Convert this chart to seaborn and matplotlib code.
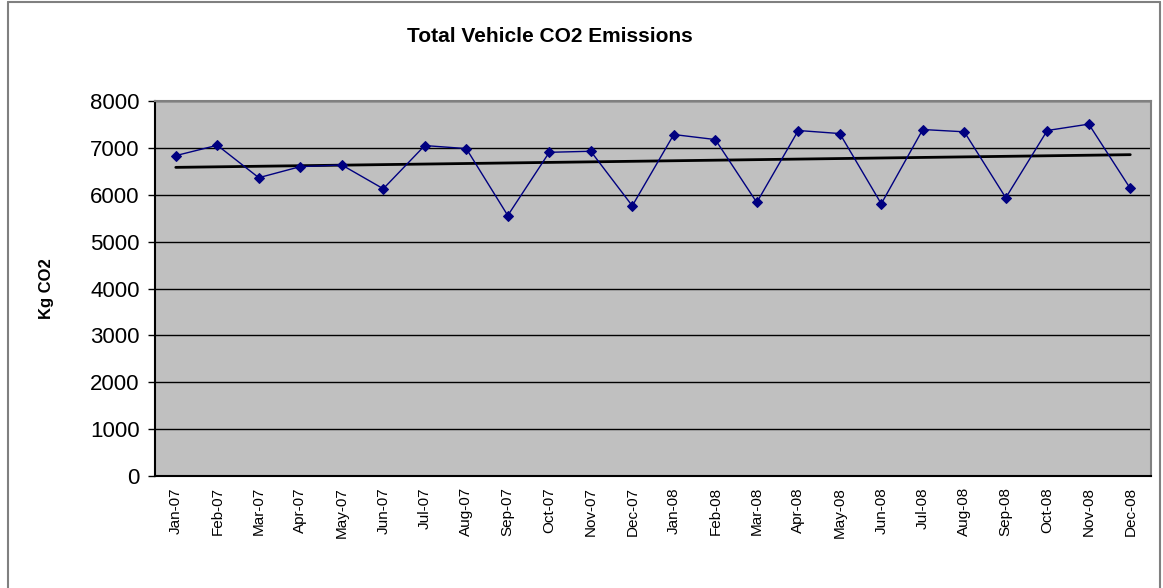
import numpy as np
import pandas as pd
import matplotlib
matplotlib.use("Agg")
import matplotlib.pyplot as plt
import seaborn as sns
from matplotlib.lines import Line2D

# monthly data
months = ["Jan-07", "Feb-07", "Mar-07", "Apr-07", "May-07", "Jun-07",
          "Jul-07", "Aug-07", "Sep-07", "Oct-07", "Nov-07", "Dec-07",
          "Jan-08", "Feb-08", "Mar-08", "Apr-08", "May-08", "Jun-08",
          "Jul-08", "Aug-08", "Sep-08", "Oct-08", "Nov-08", "Dec-08"]
co2_kg = [6835, 7056, 6364, 6600, 6636, 6128, 7050, 6985, 5557, 6906, 6928, 5764,
          7285, 7178, 5836, 7371, 7306, 5807, 7392, 7343, 5936, 7371, 7507, 6135]
y_ticks = [0, 1000, 2000, 3000, 4000, 5000, 6000, 7000, 8000]

df = pd.DataFrame({"month": months, "co2": co2_kg})
df["idx"] = np.arange(len(df))

# linear trendline (like Excel)
slope, intercept = np.polyfit(df["idx"], df["co2"], 1)
df["trend"] = slope * df["idx"] + intercept

sns.set_style("white")
plt.rcParams["font.family"] = ["Liberation Sans", "DejaVu Sans"]
plt.rcParams["text.color"] = "black"
plt.rcParams["axes.labelcolor"] = "black"
plt.rcParams["xtick.color"] = "black"
plt.rcParams["ytick.color"] = "black"

fig = plt.figure(figsize=(11.63, 5.88), dpi=100)
ax = fig.add_axes([0.1333, 0.1905, 0.8564, 0.6377])
ax.set_facecolor("#c0c0c0")

sns.lineplot(data=df, x="idx", y="trend", color="black", linewidth=2, ax=ax)
sns.lineplot(data=df, x="idx", y="co2", color="#000080", linewidth=1,
             marker="D", markersize=5, markeredgecolor="#000080", ax=ax)

ax.set_xlim(-0.5, len(months) - 0.5)
ax.set_ylim(0, 8000)
ax.set_yticks(y_ticks)
ax.set_yticklabels([str(v) for v in y_ticks], fontsize=16)
ax.yaxis.grid(True, color="black", linewidth=1)
ax.set_axisbelow(True)

ax.set_xticks(df["idx"])
ax.set_xticklabels(months, rotation=90, fontsize=11)
ax.set_xticks(np.arange(-0.5, len(months), 1), minor=True)
ax.tick_params(axis="x", which="major", length=0, pad=8)
ax.tick_params(axis="x", which="minor", length=6, direction="out", color="black", width=1)
ax.tick_params(axis="y", length=5, direction="out", color="black", width=1, left=True, pad=6)

ax.set_xlabel("")
ax.set_ylabel("Kg CO2", fontsize=12, fontweight="bold", labelpad=26)

for side in ["left", "bottom"]:
    ax.spines[side].set_color("black")
    ax.spines[side].set_linewidth(1.5)
for side in ["top", "right"]:
    ax.spines[side].set_color("#808080")
    ax.spines[side].set_linewidth(1.5)

fig.text(0.473, 1 - 37 / 588, "Total Vehicle CO2 Emissions", ha="center", va="center",
         fontsize=15, fontweight="bold")

# chart area border
for xs, ys in [([8 / 1163, 8 / 1163], [0, 1 - 2 / 588]),
               ([8 / 1163, 1160 / 1163], [1 - 2 / 588, 1 - 2 / 588]),
               ([1160 / 1163, 1160 / 1163], [0, 1 - 2 / 588])]:
    fig.add_artist(Line2D(xs, ys, color="#808080", linewidth=1.5, transform=fig.transFigure))

fig.savefig("out.png", dpi=100)
